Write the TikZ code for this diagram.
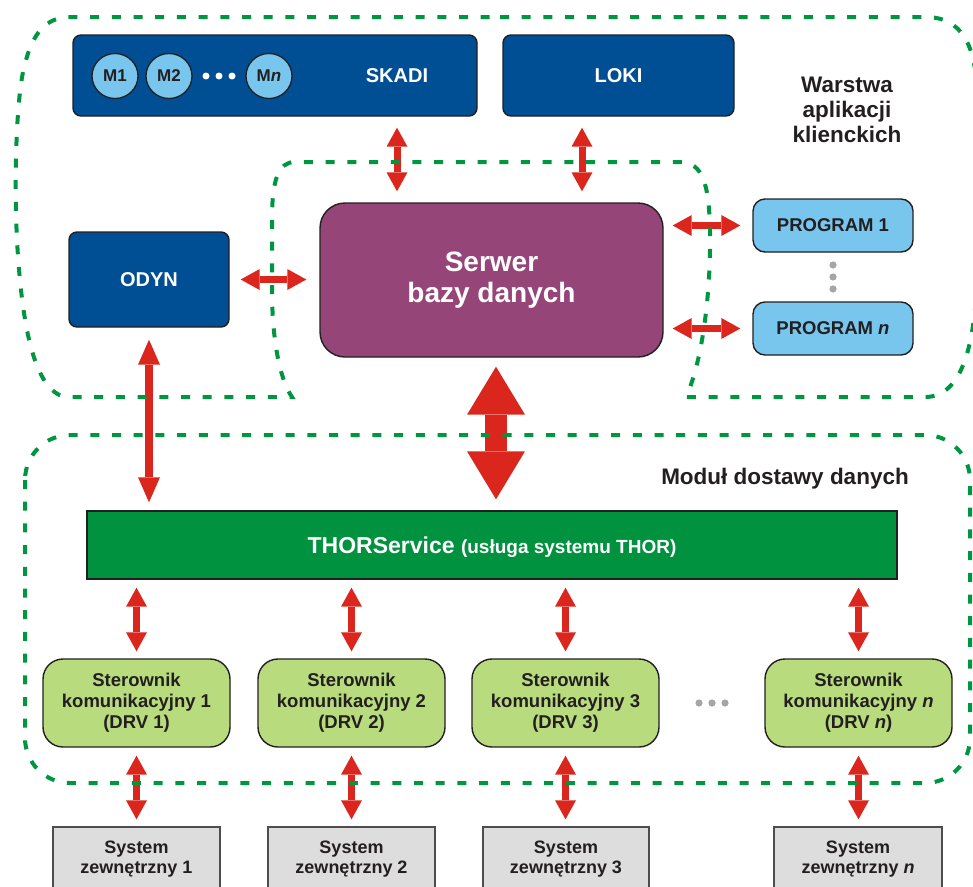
\documentclass[tikz,border=0pt]{standalone}
\usepackage{fontspec}
\setmainfont{Liberation Sans}
\usetikzlibrary{arrows.meta,shapes.geometric}

\definecolor{navy}{RGB}{0,79,148}
\definecolor{sky}{RGB}{120,197,238}
\definecolor{plum}{RGB}{150,69,121}
\definecolor{thorgreen}{RGB}{0,146,63}
\definecolor{drvgreen}{RGB}{184,220,125}
\definecolor{sysgrey}{RGB}{221,221,221}
\definecolor{zonegreen}{RGB}{0,150,64}
\definecolor{linkred}{RGB}{218,38,29}
\definecolor{ink}{RGB}{35,31,32}
\definecolor{dotgrey}{RGB}{165,165,165}

% bold text of a given size and line spacing
\newcommand\txt[2]{\fontsize{#1}{#2}\selectfont\bfseries}

\begin{document}
\begin{tikzpicture}[x=1pt,y=-1pt,
  box/.style={draw=ink, line width=1.4pt, inner sep=0pt, align=center},
  appbox/.style={box, fill=navy, rounded corners=8pt},
  applabel/.style={text=white, font=\txt{20}{24}, inner sep=0pt},
  module/.style={ellipse, draw=ink, line width=1.3pt, fill=sky, inner sep=0pt,
    minimum width=46pt, minimum height=45pt, text=ink, font=\txt{17}{20}},
  progbox/.style={box, fill=sky, rounded corners=12pt, minimum width=160pt,
    minimum height=53pt, text=ink, font=\txt{18.5}{22}},
  drvbox/.style={box, fill=drvgreen, rounded corners=20pt, minimum width=187pt,
    minimum height=88pt, text=ink, font=\txt{18.5}{21}},
  sysbox/.style={box, draw=ink!80, fill=sysgrey, minimum height=64pt,
    text=ink, font=\txt{18}{20}},
  caption/.style={text=ink, align=center, inner sep=0pt},
  zone/.style={draw=zonegreen, line width=4pt, dash pattern=on 9pt off 12.7pt},
  link/.style={draw=linkred, line width=7pt, <->,
    >={Triangle[width=21pt,length=19pt,line width=0pt]}},
  biglink/.style={draw=linkred, line width=22pt, <->,
    >={Triangle[width=58pt,length=48pt,line width=0pt]}},
]
\useasboundingbox (0,0) rectangle (973,886);
\clip (0,0) rectangle (973,886);

% ---------- client application layer ----------
\node[appbox, minimum width=404pt, minimum height=81pt] (skadi) at (275,75.5) {};
\node[applabel] (skadilbl) at (397,76) {SKADI};
\node[module] (m1) at (115,76) {M1};
\node[module] (m2) at (169,76) {M2};
\node[module] (mn) at (269,76) {M\textit{n}};
\foreach \x in {206,219,232} \fill[white] (\x,76) circle (3.5);

\node[appbox, minimum width=231pt, minimum height=81pt, text=white,
  font=\txt{20}{24}] (loki) at (618.5,75.5) {LOKI};
\node[appbox, minimum width=160pt, minimum height=95pt, text=white,
  font=\txt{20}{24}] (odyn) at (149,279.5) {ODYN};

\node[box, fill=plum, rounded corners=25pt, minimum width=343pt,
  minimum height=154pt, text=white, font=\txt{28}{31}] (server) at (491.5,280)
  {Serwer\\bazy danych};

\node[progbox] (prog1) at (833,225.5) {PROGRAM 1};
\node[progbox] (progn) at (833,328.5) {PROGRAM \textit{n}};
\foreach \y in {265,277,289} \fill[dotgrey] (833,\y) circle (3.6);

\node[caption, font=\txt{22.5}{25}] (applayer) at (847,110)
  {Warstwa\\aplikacji\\klienckich};

% ---------- data delivery module ----------
\node[caption, font=\txt{22.5}{25}, anchor=base] (datamod) at (785,484)
  {Modu\l{} dostawy danych};

\node[box, fill=thorgreen, minimum width=810pt, minimum height=68pt,
  text=white, text height=16.8pt, text depth=0pt] (thor) at (492,545)
  {\txt{23}{26}THORService \txt{19}{22}(usługa systemu THOR)};

\node[drvbox] (drv1) at (136.5,703) {Sterownik\\komunikacyjny 1\\(DRV 1)};
\node[drvbox] (drv2) at (351.5,703) {Sterownik\\komunikacyjny 2\\(DRV 2)};
\node[drvbox] (drv3) at (565.5,703) {Sterownik\\komunikacyjny 3\\(DRV 3)};
\node[drvbox] (drvn) at (858.5,703)
  {Sterownik\\komunikacyjny \textit{n}\\(DRV \textit{n})};
\foreach \x in {699,712,725} \fill[dotgrey] (\x,703) circle (3.6);

\node[sysbox, minimum width=167pt] (sys1) at (136.5,859) {System\\zewnętrzny 1};
\node[sysbox, minimum width=167pt] (sys2) at (351.5,859) {System\\zewnętrzny 2};
\node[sysbox, minimum width=166pt] (sys3) at (566,859) {System\\zewnętrzny 3};
\node[sysbox, minimum width=168pt] (sysn) at (858,859)
  {System\\zewnętrzny \textit{n}};

% ---------- connectors ----------
\draw[link, shorten <=11pt, shorten >=11pt] (skadilbl |- skadi.south)
  -- (skadilbl |- server.north);
\draw[link, shorten <=11pt, shorten >=11pt] ([xshift=-36.5pt]loki.south)
  -- ([xshift=-36.5pt]loki.south |- server.north);
\draw[link, shorten <=11pt, shorten >=13pt] (odyn.east) -- (server.west |- odyn.east);
\draw[link, shorten <=9pt, shorten >=12pt] (server.east |- prog1) -- (prog1.west);
\draw[link, shorten <=9pt, shorten >=12pt] (server.east |- progn) -- (progn.west);
\draw[link, line width=8pt, >={Triangle[width=22pt,length=25pt,line width=0pt]},
  shorten <=12pt, shorten >=8pt] (odyn.south) -- (odyn.south |- thor.north);
\draw[biglink, shorten <=9pt, shorten >=11pt] ([xshift=4.5pt]server.south)
  -- ([xshift=4.5pt]server.south |- thor.north);
\foreach \d/\s in {drv1/sys1, drv2/sys2, drv3/sys3, drvn/sysn}{
  \draw[link, shorten <=8pt, shorten >=7pt] (\d.north |- thor.south) -- (\d.north);
  \draw[link, shorten <=8pt, shorten >=7pt] (\d.south) -- (\d.south |- \s.north);
}

% ---------- dashed zone outlines ----------
\draw[zone] (500,17) -- (925,17) .. controls (962,17) and (977,45) .. (977,100)
  -- (977,260) .. controls (977,345) and (962,397) .. (925,397) -- (686,397)
  .. controls (703,360) and (711,290) .. (710,230)
  .. controls (709,185) and (703,162) .. (680,162) -- (295,162)
  .. controls (278,162) and (272,180) .. (272,220) -- (272,290)
  .. controls (272,340) and (280,380) .. (292,397) -- (65,397)
  .. controls (35,390) and (22,330) .. (17,240)
  .. controls (14,180) and (16,90) .. (26,60)
  .. controls (33,35) and (45,17) .. (70,17) -- cycle;
\draw[zone, rounded corners=45pt] (25,435) rectangle (970,783);
\end{tikzpicture}
\end{document}
